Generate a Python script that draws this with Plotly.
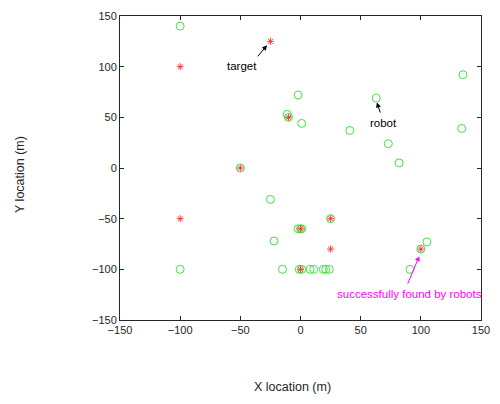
import plotly.graph_objects as go

# Targets (red asterisks)
target_x = [-25, -100, -10, -50, -100, 0, 25, 25, 0, 100]
target_y = [125, 100, 50, 0, -50, -60, -50, -80, -100, -80]

# Robots (green circles)
robot_x = [-100, -50, -2, -11, -10, 1, 41, 63, 73, 82, 135, 134,
           -100, -25, -22, -2, 0, 1, 25, -15, -1, 1, 8, 11, 19, 21, 24,
           91, 100, 105]
robot_y = [140, 0, 72, 53, 50, 44, 37, 69, 24, 5, 92, 39,
           -100, -31, -72, -60, -60, -60, -50, -100, -100, -100, -100, -100,
           -100, -100, -100, -100, -80, -73]

x_ticks = [-150, -100, -50, 0, 50, 100, 150]
y_ticks = [-150, -100, -50, 0, 50, 100, 150]

FONT = "Liberation Sans, Arial, sans-serif"
AX = "#262626"

fig = go.Figure()
fig.add_trace(go.Scatter(
    x=robot_x, y=robot_y, mode="markers",
    marker=dict(symbol="circle-open", size=8, color="#44e044",
                line=dict(width=1, color="#44e044")),
    showlegend=False))
fig.add_trace(go.Scatter(
    x=target_x, y=target_y, mode="markers",
    marker=dict(symbol="asterisk-open", size=6, color="#ff1a1a",
                line=dict(width=0.8, color="#ff1a1a")),
    showlegend=False))

axis_common = dict(
    showgrid=False, zeroline=False, showline=True, linecolor=AX, linewidth=1,
    mirror="allticks", ticks="inside", ticklen=4, tickcolor=AX,
    tickfont=dict(family=FONT, size=11, color=AX),
)
fig.update_xaxes(range=[-150, 150], tickvals=x_ticks, **axis_common)
fig.update_yaxes(range=[-150, 150], tickvals=y_ticks, **axis_common)

annotations = [
    dict(x=-27.8, y=121.2, ax=-36.5, ay=108.7, axref="x", ayref="y",
         xref="x", yref="y", showarrow=True, arrowhead=2, arrowsize=1,
         arrowwidth=1, arrowcolor="black", text=""),
    dict(x=-48.6, y=101, xref="x", yref="y", showarrow=False, text="target",
         font=dict(family=FONT, size=11.5, color="#000000")),
    dict(x=63.5, y=64.7, ax=66.7, ay=53.3, axref="x", ayref="y",
         xref="x", yref="y", showarrow=True, arrowhead=2, arrowsize=1,
         arrowwidth=1, arrowcolor="black", text=""),
    dict(x=69, y=44.4, xref="x", yref="y", showarrow=False, text="robot",
         font=dict(family=FONT, size=11.5, color="#000000")),
    dict(x=98.7, y=-87, ax=88.6, ay=-115.6, axref="x", ayref="y",
         xref="x", yref="y", showarrow=True, arrowhead=2, arrowsize=1,
         arrowwidth=1, arrowcolor="#ff00ff", text=""),
    dict(x=90.6, y=-124.4, xref="x", yref="y", showarrow=False,
         text="successfully found by robots",
         font=dict(family=FONT, size=11.5, color="#ff00ff")),
    dict(x=(297 - 120) / 370, y=0, xref="paper", yref="paper",
         yanchor="middle", xanchor="center", yshift=-67, showarrow=False,
         text="X location (m)", font=dict(family=FONT, size=12.5, color=AX)),
    dict(x=(18 - 120) / 370, y=(320 - 174) / 305, xref="paper", yref="paper",
         xanchor="center", yanchor="middle", textangle=-90, showarrow=False,
         text="Y location (m)", font=dict(family=FONT, size=12.5, color=AX)),
]

fig.update_layout(
    width=500, height=404,
    margin=dict(l=120, r=10, t=15, b=84),
    paper_bgcolor="white", plot_bgcolor="white",
    annotations=annotations,
    font=dict(family=FONT),
)

fig.write_html("out.html")
